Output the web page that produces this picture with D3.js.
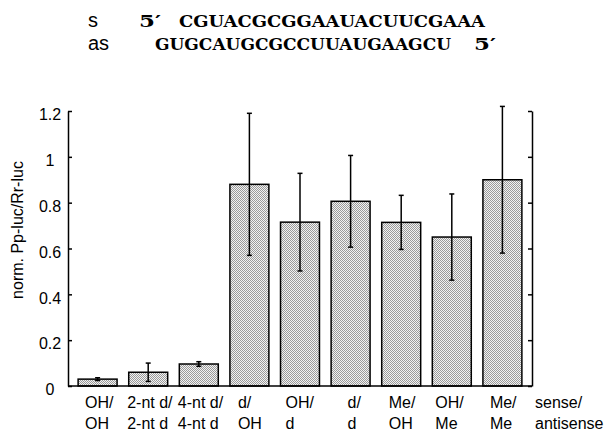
<!DOCTYPE html>
<html>
<head>
<meta charset="utf-8">
<script src="https://cdn.jsdelivr.net/npm/d3@7"></script>
<style>
  body { margin: 0; background: #fff; }
  text { font-family: "Liberation Sans", Arial, sans-serif; }
  text.seq { font-family: "DejaVu Serif", "Liberation Serif", serif; font-weight: bold; }
</style>
</head>
<body>
<div id="container"></div>
<script>
// Data
const senseLabels = ["OH/", "2-nt d/", "4-nt d/", "d/", "OH/", "d/", "Me/", "OH/", "Me/"];
const antisenseLabels = ["OH", "2-nt d", "4-nt d", "OH", "d", "d", "OH", "Me", "Me"];
const values = [0.03, 0.06, 0.096, 0.88, 0.715, 0.806, 0.714, 0.65, 0.9];
const errors = [0.006, 0.04, 0.01, 0.31, 0.213, 0.2, 0.118, 0.188, 0.32];
const yTicks = [0, 0.2, 0.4, 0.6, 0.8, 1, 1.2];
const senseSeq = "CGUACGCGGAAUACUUCGAAA";
const antisenseSeq = "GUGCAUGCGCCUUAUGAAGCU";

const draw = () => {
  const width = 606,
    height = 433;
  const left = 68, right = 532, top = 111, bottom = 386;

  const svg = d3.select("div#container")
    .append("svg")
    .attr("width", width)
    .attr("height", height);

  // stipple fill
  const pat = svg.append("defs").append("pattern")
    .attr("id", "dots")
    .attr("width", 2).attr("height", 2)
    .attr("patternUnits", "userSpaceOnUse");
  pat.append("rect").attr("width", 2).attr("height", 2).attr("fill", "#f2f2f2");
  pat.append("rect").attr("x", 0).attr("y", 0).attr("width", 1).attr("height", 1).attr("fill", "#9a9a9a");
  pat.append("rect").attr("x", 1).attr("y", 1).attr("width", 1).attr("height", 1).attr("fill", "#9a9a9a");

  // Scales
  const x = d3.scaleBand()
    .domain(d3.range(values.length))
    .range([left, right])
    .paddingInner(0.23)
    .paddingOuter(0.2);
  const y = d3.scaleLinear().domain([0, 1.2]).range([bottom, top]);

  // Sequence header
  svg.append("text").attr("x", 88).attr("y", 27).attr("font-size", 20).text("s");
  svg.append("text").attr("x", 88).attr("y", 50).attr("font-size", 20).text("as");
  svg.append("text").attr("class", "seq").attr("x", 139).attr("y", 27)
    .attr("font-size", 17).attr("textLength", 22).attr("lengthAdjust", "spacingAndGlyphs").text("5\u2032");
  svg.append("text").attr("class", "seq").attr("x", 179).attr("y", 27)
    .attr("font-size", 17)
    .attr("textLength", 306).attr("lengthAdjust", "spacingAndGlyphs").text(senseSeq);
  svg.append("text").attr("class", "seq").attr("x", 155).attr("y", 50)
    .attr("font-size", 17)
    .attr("textLength", 296).attr("lengthAdjust", "spacingAndGlyphs").text(antisenseSeq);
  svg.append("text").attr("class", "seq").attr("x", 474).attr("y", 50)
    .attr("font-size", 17).attr("textLength", 22).attr("lengthAdjust", "spacingAndGlyphs").text("5\u2032");

  // Bars
  svg.append("g")
    .selectAll("rect")
    .data(values)
    .enter()
    .append("rect")
    .attr("x", (d, i) => x(i))
    .attr("y", (d) => y(d))
    .attr("width", x.bandwidth())
    .attr("height", (d) => bottom - y(d))
    .attr("fill", "url(#dots)")
    .attr("stroke", "#000")
    .attr("stroke-width", 1.5);

  // Error bars
  const eb = svg.append("g").attr("stroke", "#000").attr("stroke-width", 1.5);
  values.forEach((v, i) => {
    const cx = x(i) + x.bandwidth() / 2;
    eb.append("line").attr("x1", cx).attr("x2", cx)
      .attr("y1", y(v + errors[i])).attr("y2", y(v - errors[i]));
    [v + errors[i], v - errors[i]].forEach((e) => {
      eb.append("line").attr("x1", cx - 2.5).attr("x2", cx + 2.5)
        .attr("y1", y(e)).attr("y2", y(e));
    });
  });

  // Axes
  const yAxis = svg.append("g")
    .attr("transform", `translate(${left},0)`)
    .call(d3.axisLeft(y).tickValues(yTicks).tickFormat(d3.format("~g"))
      .tickSizeInner(-4).tickSizeOuter(0));
  yAxis.selectAll("text")
    .attr("x", -18).attr("dy", "0.55em")
    .attr("text-anchor", "middle")
    .attr("font-size", 16)
    .attr("fill", "#000")
    .style("font-family", "'Liberation Sans', Arial, sans-serif");
  yAxis.select(".domain").attr("stroke-width", 1.5);
  yAxis.selectAll(".tick line").attr("stroke-width", 1.5);

  const rAxis = svg.append("g")
    .attr("transform", `translate(${right},0)`)
    .call(d3.axisRight(y).tickValues(yTicks).tickFormat("")
      .tickSizeInner(-4).tickSizeOuter(0));
  rAxis.select(".domain").attr("stroke-width", 1.5);
  rAxis.selectAll(".tick line").attr("stroke-width", 1.5);

  svg.append("line")
    .attr("x1", left).attr("x2", right)
    .attr("y1", bottom).attr("y2", bottom)
    .attr("stroke", "#000").attr("stroke-width", 1.5);

  // Y label
  svg.append("text")
    .attr("transform", `translate(23,230) rotate(-90)`)
    .attr("text-anchor", "middle")
    .attr("font-size", 16)
    .text("norm. Pp-luc/Rr-luc");

  // X labels (start offsets from bar centre)
  const labelDx = [-12.5, -21, -21, -11.5, -14.5, -3, -12.5, -16.5, -12.5];
  const lab = svg.append("g").attr("font-size", 16);
  senseLabels.forEach((s, i) => {
    const lx = x(i) + x.bandwidth() / 2 + labelDx[i];
    lab.append("text").attr("x", lx).attr("y", 408).text(s);
    lab.append("text").attr("x", lx).attr("y", 429).text(antisenseLabels[i]);
  });
  lab.append("text").attr("x", right + 3).attr("y", 408).text("sense/");
  lab.append("text").attr("x", right + 3).attr("y", 429).text("antisense");
};

draw();
</script>
</body>
</html>
